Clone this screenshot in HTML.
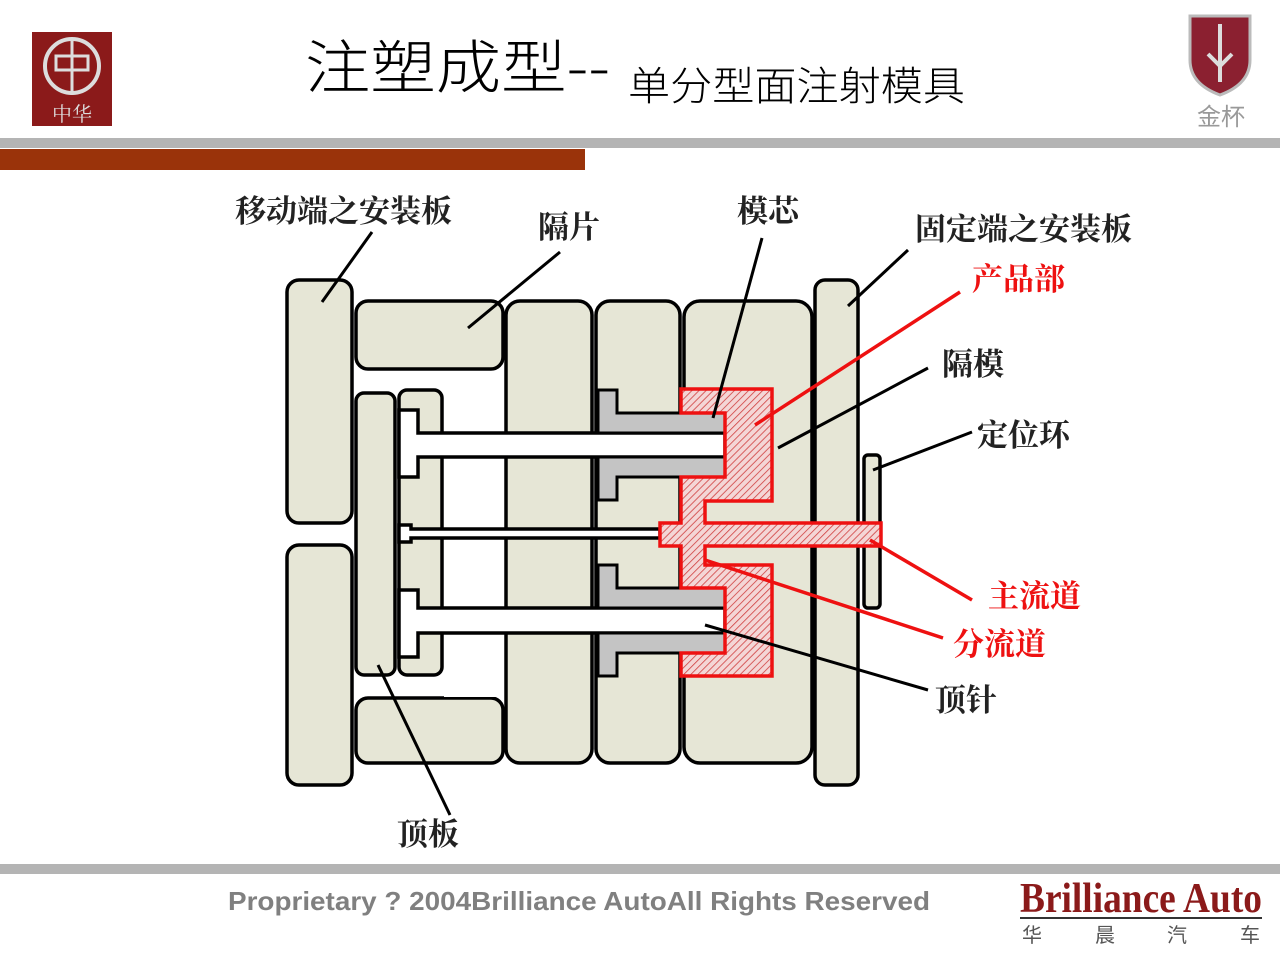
<!DOCTYPE html>
<html><head><meta charset="utf-8"><style>
html,body{margin:0;padding:0;background:#fff;width:1280px;height:960px;overflow:hidden}
</style></head><body>
<svg width="1280" height="960" viewBox="0 0 1280 960" xmlns="http://www.w3.org/2000/svg">
<defs>
<pattern id="h" width="5" height="5" patternUnits="userSpaceOnUse" patternTransform="rotate(45)">
<rect width="5" height="5" fill="#f4d6d6"/><line x1="0" y1="0" x2="0" y2="5" stroke="#d04040" stroke-width="1.6"/>
</pattern>
</defs>
<!-- header -->
<rect x="32" y="32" width="80" height="94" fill="#8b1a1a"/>
<circle cx="72" cy="66" r="27" fill="none" stroke="#ddd" stroke-width="4"/>
<line x1="72" y1="40" x2="72" y2="95" stroke="#ddd" stroke-width="3"/>
<rect x="56" y="56" width="32" height="14" fill="none" stroke="#ddd" stroke-width="3"/>
<text x="72" y="121" font-size="20" fill="#ddd" text-anchor="middle" font-family="Noto Serif CJK SC, serif">中华</text>
<path d="M1190 16 L1250 16 L1250 60 Q1250 84 1220 95 Q1190 84 1190 60 Z" fill="#8b2030" stroke="#bbb" stroke-width="3"/>
<path d="M1220 24 L1220 82 M1208 54 L1220 66 L1232 54" stroke="#ddd" stroke-width="4" fill="none"/>
<text x="1221" y="125" font-size="24" fill="#999" text-anchor="middle" font-family="Noto Sans CJK SC, sans-serif">金杯</text>
<text x="305" y="88" font-size="58" font-family="Noto Sans CJK SC, sans-serif" font-weight="300" textLength="305" lengthAdjust="spacingAndGlyphs">注塑成型--</text>
<text x="628" y="100" font-size="40" font-family="Noto Sans CJK SC, sans-serif" font-weight="300" textLength="337" lengthAdjust="spacingAndGlyphs">单分型面注射模具</text>
<rect x="0" y="138" width="1280" height="10" fill="#b4b4b4"/>
<rect x="0" y="149" width="585" height="21" fill="#9a330a"/>

<!-- diagram -->
<g stroke="#000" stroke-width="3.5" fill="#e6e6d6">
<rect x="287" y="280" width="65" height="243" rx="12"/>
<rect x="287" y="545" width="65" height="240" rx="12"/>
<rect x="356" y="301" width="147" height="68" rx="12"/>
<rect x="356" y="698" width="147" height="65" rx="12"/>
<rect x="506" y="301" width="86" height="462" rx="14"/>
<rect x="596" y="301" width="84" height="462" rx="14"/>
<rect x="684" y="301" width="128" height="462" rx="16"/>
<rect x="815" y="280" width="43" height="505" rx="10"/>
<rect x="864" y="455" width="16" height="153" rx="4"/>
<rect x="356" y="393" width="39" height="282" rx="8"/>
<rect x="399" y="390" width="43" height="285" rx="8"/>
</g>
<rect x="444" y="371" width="60" height="326" fill="#fff"/>
<!-- pins -->
<g fill="#fff" stroke="#000" stroke-width="3.5">
<path d="M399 410 L418 410 L418 433 L725 433 L725 457 L418 457 L418 477 L399 477 Z"/>
<path d="M399 525 L411 525 L411 529 L660 529 L660 538 L411 538 L411 542 L399 542 Z"/>
<path d="M399 590 L418 590 L418 608 L725 608 L725 633 L418 633 L418 657 L399 657 Z"/>
</g>
<!-- grey sleeves -->
<g fill="#c4c4c4" stroke="#000" stroke-width="3">
<path d="M598 390 L617 390 L617 413 L725 413 L725 433 L598 433 Z"/>
<path d="M598 457 L725 457 L725 477 L617 477 L617 500 L598 500 Z"/>
<path d="M598 565 L617 565 L617 588 L725 588 L725 608 L598 608 Z"/>
<path d="M598 633 L725 633 L725 653 L617 653 L617 676 L598 676 Z"/>
</g>
<!-- product -->
<path d="M681 389 L772 389 L772 501 L705 501 L705 523 L881 523 L881 546 L705 546 L705 565 L772 565 L772 676 L681 676 L681 653 L725 653 L725 633 L725 608 L725 588 L681 588 L681 546 L660 546 L660 523 L681 523 L681 477 L725 477 L725 413 L681 413 Z" fill="url(#h)" stroke="#ee1111" stroke-width="3.5"/>

<!-- leader lines -->
<g stroke="#000" stroke-width="3" fill="none">
<line x1="372" y1="232" x2="322" y2="302"/>
<line x1="560" y1="252" x2="468" y2="328"/>
<line x1="762" y1="238" x2="713" y2="418"/>
<line x1="908" y1="250" x2="848" y2="306"/>
<line x1="928" y1="368" x2="778" y2="448"/>
<line x1="972" y1="432" x2="873" y2="470"/>
<line x1="928" y1="690" x2="705" y2="625"/>
<line x1="450" y1="815" x2="378" y2="665"/>
</g>
<g stroke="#ee1111" stroke-width="3.5" fill="none">
<line x1="960" y1="292" x2="755" y2="425"/>
<line x1="972" y1="600" x2="870" y2="540"/>
<line x1="943" y1="638" x2="705" y2="560"/>
</g>
<!-- labels -->
<g font-size="31" font-weight="bold" fill="#222" font-family="Noto Serif CJK SC, serif">
<text x="235" y="222">移动端之安装板</text>
<text x="538" y="238">隔片</text>
<text x="737" y="222">模芯</text>
<text x="915" y="240">固定端之安装板</text>
<text x="942" y="375">隔模</text>
<text x="977" y="446">定位环</text>
<text x="935" y="711">顶针</text>
<text x="397" y="845">顶板</text>
</g>
<g font-size="31" font-weight="bold" fill="#ee1111" font-family="Noto Serif CJK SC, serif">
<text x="972" y="290">产品部</text>
<text x="988" y="607">主流道</text>
<text x="953" y="655">分流道</text>
</g>

<!-- footer -->
<rect x="0" y="864" width="1280" height="10" fill="#b4b4b4"/>
<text x="228" y="910" font-size="26" font-weight="bold" fill="#808080" font-family="Liberation Sans, sans-serif" textLength="702" lengthAdjust="spacingAndGlyphs">Proprietary  ?  2004Brilliance AutoAll Rights Reserved</text>
<text x="1020" y="912" font-size="42" font-weight="bold" fill="#8b1a1a" font-family="Liberation Serif, serif" textLength="242" lengthAdjust="spacingAndGlyphs">Brilliance Auto</text>
<rect x="1020" y="917" width="242" height="2" fill="#333"/>
<g font-size="20" fill="#555" font-family="Noto Sans CJK SC, sans-serif">
<text x="1022" y="942">华</text><text x="1095" y="942">晨</text><text x="1167" y="942">汽</text><text x="1240" y="942">车</text>
</g>
</svg>
</body></html>
